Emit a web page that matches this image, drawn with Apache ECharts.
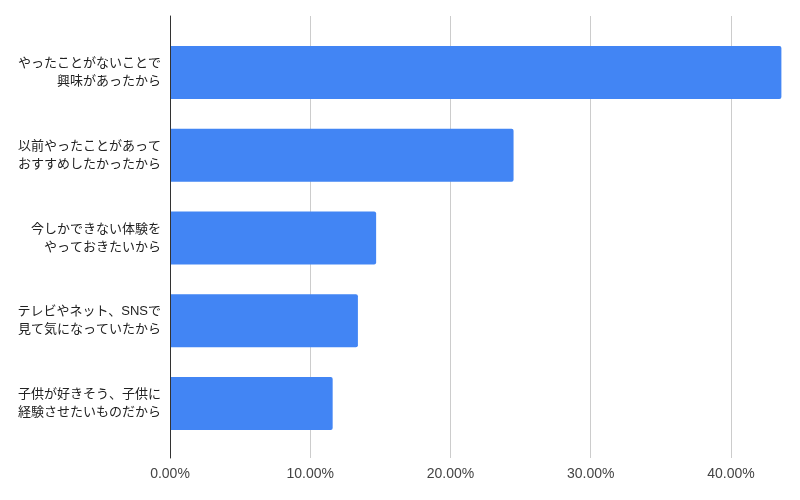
<!DOCTYPE html>
<html><head><meta charset="utf-8">
<script src="https://cdn.jsdelivr.net/npm/echarts@6/dist/echarts.min.js"></script>
<style>html,body{margin:0;padding:0;background:#fff}#c{width:800px;height:500px}</style>
</head><body><div id="c"></div>
<script>
const categories = [
  'やったことがないことで\n興味があったから',
  '以前やったことがあって\nおすすめしたかったから',
  '今しかできない体験を\nやっておきたいから',
  'テレビやネット、SNSで\n見て気になっていたから',
  '子供が好きそう、子供に\n経験させたいものだから'
];
const values = [0.436, 0.245, 0.147, 0.134, 0.116];
const tickValues = [0.1, 0.2, 0.3, 0.4];
const axisMax = 0.44;

const chart = echarts.init(document.getElementById('c'));
const font = "'Liberation Sans', Arial, 'Noto Sans CJK JP', sans-serif";
chart.setOption({
  animation: false,
  textStyle: { fontFamily: font },
  grid: [
    { left: 170, right: 13, top: 16, bottom: 42 },
    { left: 170, right: 13, top: 31, bottom: 55 }
  ],
  xAxis: [
    { gridIndex: 0, type: 'value', min: 0, max: axisMax, interval: 0.1,
      axisLine: { show: false }, axisTick: { show: false }, splitLine: { show: false },
      axisLabel: { showMaxLabel: false, margin: 9, fontSize: 14, color: '#444', fontFamily: font,
        formatter: v => (v * 100).toFixed(2) + '%' } },
    { gridIndex: 1, type: 'value', min: 0, max: axisMax, show: false }
  ],
  yAxis: [
    { gridIndex: 0, type: 'value', min: 0, max: 1, z: 5,
      axisLine: { show: true, lineStyle: { color: '#333', width: 1 } },
      axisTick: { show: false }, axisLabel: { show: false }, splitLine: { show: false } },
    { gridIndex: 1, type: 'category', inverse: true, data: categories,
      axisLine: { show: false }, axisTick: { show: false }, splitLine: { show: false },
      axisLabel: { margin: 9, fontSize: 13, lineHeight: 18, color: '#222', align: 'right', fontFamily: font } }
  ],
  series: [
    { type: 'line', xAxisIndex: 0, yAxisIndex: 0, data: [], silent: true, z: 0,
      markLine: { silent: true, symbol: 'none', z: 0, label: { show: false },
        lineStyle: { color: '#ccc', width: 1, type: 'solid' },
        data: tickValues.map(v => ({ xAxis: v })) } },
    { type: 'bar', xAxisIndex: 1, yAxisIndex: 1, data: values, barWidth: 53, z: 3,
      itemStyle: { color: '#4285F4', borderRadius: [0, 2, 2, 0] } }
  ]
});
</script></body></html>
